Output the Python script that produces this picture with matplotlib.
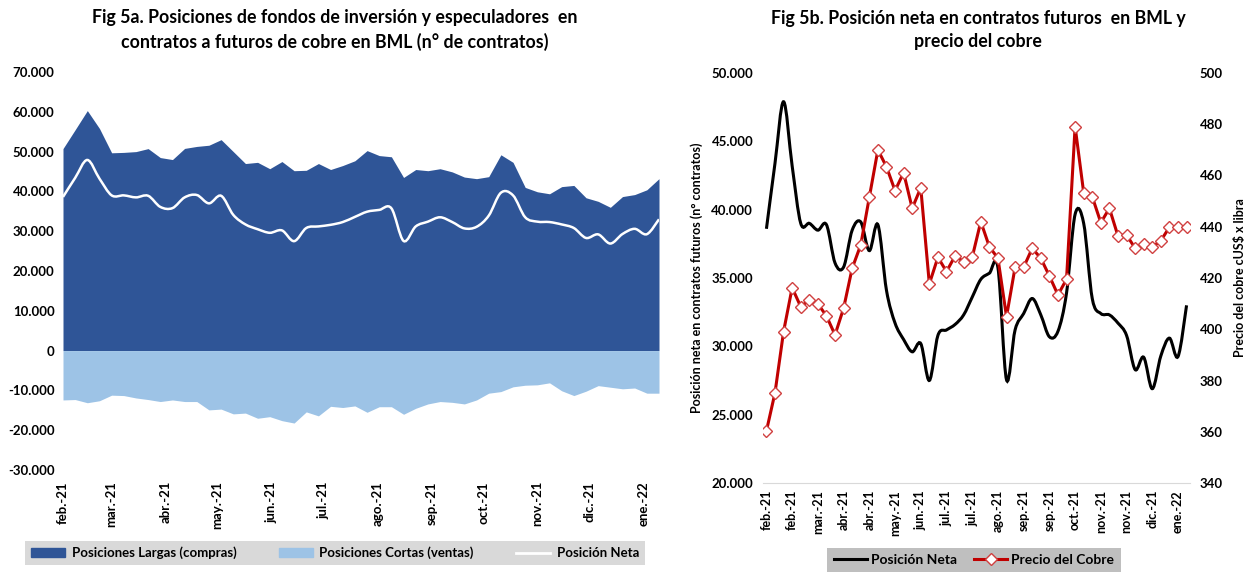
import numpy as np
import pandas as pd
import matplotlib
matplotlib.use("Agg")
import matplotlib.pyplot as plt
import matplotlib.dates as mdates
from matplotlib.path import Path
from matplotlib.patches import PathPatch, Patch
from matplotlib.lines import Line2D
from matplotlib.ticker import FuncFormatter

plt.rcParams['font.family'] = ['Lato', 'DejaVu Sans']
plt.rcParams['font.weight'] = 'bold'
plt.rcParams['axes.labelweight'] = 'bold'

# semanas (viernes) desde feb-21 a ene-22
fechas = pd.date_range("2021-02-05", periods=50, freq="7D")

largas = [50750, 55500, 60300, 55800, 49700, 49800, 50000, 50750, 48500, 48000,
          50800, 51300, 51600, 53000, 50000, 47000, 47300, 45700, 47500, 45200,
          45300, 47000, 45500, 46500, 47700, 50250, 49000, 48700, 43500, 45500,
          45200, 45700, 44900, 43600, 43200, 43700, 49200, 47300, 41000, 39900,
          39400, 41200, 41500, 38400, 37500, 36000, 38700, 39200, 40400, 43200]

cortas = [-12400, -12300, -13100, -12600, -11200, -11300, -11900, -12300, -12800, -12400,
          -12800, -12800, -14900, -14700, -15900, -15700, -17000, -16600, -17600, -18200,
          -15400, -16400, -14000, -14300, -13900, -15500, -14100, -14100, -16000, -14500,
          -13400, -12800, -13000, -13400, -12400, -10700, -10300, -9100, -8700, -8600,
          -8100, -10100, -11300, -10200, -8800, -9200, -9600, -9400, -10700, -10700]

neta = [38600, 43400, 47900, 43200, 39000, 39000, 38500, 38900, 36100, 35800,
        38500, 39100, 37000, 38900, 34100, 31700, 30500, 29600, 30200, 27500,
        30800, 31200, 31600, 32300, 33600, 34900, 35350, 35750, 27550, 31200,
        32400, 33500, 32300, 30700, 31100, 33900, 39660, 39000, 33500, 32400,
        32300, 31700, 30800, 28300, 29200, 26900, 29300, 30600, 29250, 33000]

precio = [360.3, 375.2, 399.1, 416.2, 408.8, 411.4, 409.9, 405.2, 397.8, 408.2,
          423.8, 432.9, 451.5, 470.0, 463.4, 454.1, 461.1, 447.2, 455.2, 417.7,
          428.1, 422.5, 428.6, 426.4, 428.1, 442.0, 432.2, 427.7, 404.9, 424.2,
          424.2, 431.6, 427.7, 420.8, 413.4, 419.5, 479.1, 453.3, 451.7, 441.6,
          447.2, 436.4, 436.8, 431.6, 433.3, 432.0, 434.6, 439.8, 439.8, 439.8]

meses_a = ["feb.-21", "mar.-21", "abr.-21", "may.-21", "jun.-21", "jul.-21",
           "ago.-21", "sep.-21", "oct.-21", "nov.-21", "dic.-21", "ene.-22"]
etiquetas_b = ["feb.-21", "feb.-21", "mar.-21", "abr.-21", "abr.-21", "may.-21",
               "jun.-21", "jul.-21", "jul.-21", "ago.-21", "sep.-21", "sep.-21",
               "oct.-21", "nov.-21", "nov.-21", "dic.-21", "ene.-22"]

AZUL = "#2F5597"
CELESTE = "#9DC3E6"
ROJO = "#C00000"


def smooth_path(x, y):
    # curva suavizada tipo Excel (Catmull-Rom en Bezier)
    x = np.asarray(x, float)
    y = np.asarray(y, float)
    n = len(x)
    verts = [(x[0], y[0])]
    codes = [Path.MOVETO]
    for i in range(n - 1):
        a = max(i - 1, 0)
        b = min(i + 2, n - 1)
        c1 = (x[i] + (x[i + 1] - x[a]) / 6, y[i] + (y[i + 1] - y[a]) / 6)
        c2 = (x[i + 1] - (x[b] - x[i]) / 6, y[i + 1] - (y[b] - y[i]) / 6)
        verts += [c1, c2, (x[i + 1], y[i + 1])]
        codes += [Path.CURVE4] * 3
    return Path(verts, codes)


miles = FuncFormatter(lambda v, p: f"{v:,.0f}".replace(",", "."))

fig = plt.figure(figsize=(12.53, 5.75), dpi=100)

# ---------------- Fig 5a ----------------
ax1 = fig.add_axes([63 / 1253, 1 - 470 / 575, 596 / 1253, 398 / 575])
xd = mdates.date2num(fechas)
ax1.fill_between(xd, 0, largas, color=AZUL, lw=0)
ax1.fill_between(xd, cortas, 0, color=CELESTE, lw=0)
ax1.add_patch(PathPatch(smooth_path(xd, neta), fill=False, ec="white", lw=1.8))
ax1.set_xlim(xd[0], xd[-1])
ax1.set_ylim(-30000, 70000)
ax1.set_yticks(np.arange(-30000, 70001, 10000))
ax1.yaxis.set_major_formatter(miles)
ticks_a = mdates.date2num(pd.date_range("2021-02-01", periods=12, freq="MS") + pd.Timedelta(days=4))
ax1.set_xticks(ticks_a)
ax1.set_xticklabels(meses_a, rotation=90)
for s in ax1.spines.values():
    s.set_visible(False)
ax1.tick_params(length=0, labelsize=9.5, pad=6)
ax1.tick_params(axis="x", pad=8)
fig.text(335 / 1253, 1 - 30 / 575,
         "Fig 5a. Posiciones de fondos de inversión y especuladores  en\n"
         "contratos a futuros de cobre en BML (n° de contratos)",
         ha="center", va="center", fontsize=12.8, fontweight="bold", linespacing=1.4)

h1 = [Patch(color=AZUL), Patch(color=CELESTE), Line2D([], [], color="white", lw=2)]
fig.legend(h1, ["Posiciones Largas (compras)", "Posiciones Cortas (ventas)", "Posición Neta"],
           loc="center", bbox_to_anchor=(335 / 1253, 1 - 553 / 575), ncol=3,
           facecolor="#D9D9D9", edgecolor="none", framealpha=1, fancybox=False,
           fontsize=9.5, handlelength=2.6, handleheight=0.7, columnspacing=3.2,
           borderpad=0.45, handletextpad=0.5)

# ---------------- Fig 5b ----------------
ax2 = fig.add_axes([763 / 1253, 1 - 483 / 575, 427 / 1253, 410 / 575])
ax3 = ax2.twinx()
xi = np.arange(len(neta))
ax2.add_patch(PathPatch(smooth_path(xi, neta), fill=False, ec="black", lw=2.2))
ax3.plot(xi, precio, color=ROJO, lw=2.2, marker="D", ms=6.5, mfc="white",
         mec="#D04040", mew=1.0)
ax2.set_xlim(-0.4, 49.4)
ax2.set_ylim(20000, 50000)
ax3.set_ylim(340, 500)
ax2.set_yticks(np.arange(20000, 50001, 5000))
ax2.yaxis.set_major_formatter(miles)
ax3.set_yticks(np.arange(340, 501, 20))
ax2.set_xticks(xi[::3])
ax2.set_xticklabels(etiquetas_b, rotation=90)
for a in (ax2, ax3):
    for s in a.spines.values():
        s.set_visible(False)
    a.tick_params(length=0, labelsize=9.5, pad=7)
ax2.spines["bottom"].set_visible(True)
ax2.spines["bottom"].set_color("#D9D9D9")
ax2.tick_params(axis="x", pad=5, labelsize=9)
ax2.set_ylabel("Posición neta en contratos futuros (n° contratos)", fontsize=9, labelpad=6)
ax3.set_ylabel("Precio del cobre cUS$ x libra", fontsize=9, labelpad=8)
fig.text(978 / 1253, 1 - 30 / 575,
         "Fig 5b. Posición neta en contratos futuros  en BML y\nprecio del cobre",
         ha="center", va="center", fontsize=12.8, fontweight="bold", linespacing=1.4)

h2 = [Line2D([], [], color="black", lw=2.2),
      Line2D([], [], color=ROJO, lw=2.2, marker="D", ms=6, mfc="white", mec="#D04040")]
fig.legend(h2, ["Posición Neta", "Precio del Cobre"], loc="center",
           bbox_to_anchor=(974 / 1253, 1 - 560 / 575), ncol=2,
           facecolor="#BFBFBF", edgecolor="none", framealpha=1, fancybox=False,
           fontsize=10, handlelength=2.4, columnspacing=1.2, borderpad=0.45,
           handletextpad=0.3)

fig.savefig("out.png", dpi=100, facecolor="white")
